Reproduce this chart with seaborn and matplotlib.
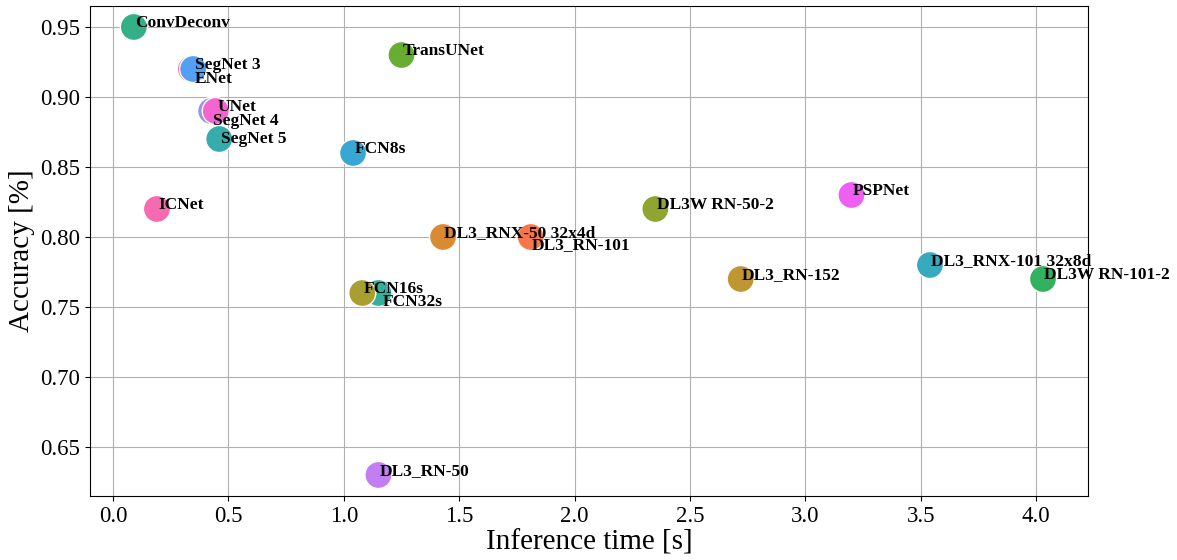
import numpy as np
import pandas as pd
import matplotlib

matplotlib.use("Agg")
import matplotlib.pyplot as plt
import seaborn as sns

# Data (drawing order matters for overlaps)
models = [
    "ConvDeconv", "ENet", "SegNet 3", "SegNet 4", "UNet", "SegNet 5",
    "FCN8s", "ICNet", "TransUNet", "DL3_RNX-50 32x4d", "DL3_RN-101",
    "FCN32s", "FCN16s", "DL3_RN-50", "DL3W RN-50-2", "DL3_RN-152",
    "PSPNet", "DL3_RNX-101 32x8d", "DL3W RN-101-2",
]
inference_time = [
    0.09, 0.337, 0.347, 0.425, 0.445, 0.46,
    1.04, 0.19, 1.25, 1.43, 1.81,
    1.15, 1.08, 1.15, 2.35, 2.72,
    3.20, 3.54, 4.03,
]
accuracy = [
    0.95, 0.92, 0.92, 0.89, 0.89, 0.87,
    0.86, 0.82, 0.93, 0.80, 0.80,
    0.76, 0.76, 0.63, 0.82, 0.77,
    0.83, 0.78, 0.77,
]

# order of the husl hues
hue_order = [
    "ENet", "DL3_RN-101", "DL3_RNX-50 32x4d", "DL3_RN-152", "FCN16s",
    "DL3W RN-50-2", "TransUNet", "DL3W RN-101-2", "ConvDeconv", "FCN32s",
    "SegNet 5", "DL3_RNX-101 32x8d", "FCN8s", "SegNet 3", "SegNet 4",
    "DL3_RN-50", "PSPNet", "UNet", "ICNet",
]

# label nudges (points) where labels were pushed apart
label_nudge = {
    "ENet": (3, -10),
    "SegNet 4": (1, -10),
    "SegNet 5": (1, -3),
    "DL3_RN-101": (1, -9),
    "FCN32s": (3, -9),
}

df = pd.DataFrame({"model": models, "time": inference_time, "acc": accuracy})

plt.rcParams["font.family"] = ["Liberation Serif", "DejaVu Serif"]

fig, ax = plt.subplots(figsize=(11.77, 5.6), dpi=100)
fig.subplots_adjust(left=90 / 1177, right=1088 / 1177, top=1 - 6 / 560, bottom=1 - 496 / 560)

sns.scatterplot(data=df, x="time", y="acc", hue="model", hue_order=hue_order,
                palette=sns.color_palette("husl", len(hue_order)),
                s=380, edgecolor="white", linewidth=1, legend=False, ax=ax, zorder=3)

for _, row in df.iterrows():
    dx, dy = label_nudge.get(row["model"], (1, 0))
    ax.annotate(row["model"], (row["time"], row["acc"]), xytext=(dx, dy),
                textcoords="offset points", ha="left", va="baseline",
                fontsize=12.5, fontweight="bold", zorder=4)

ax.set_xlim(-0.1, 4.225)
ax.set_ylim(0.615, 0.965)
ax.set_xticks(np.arange(0, 4.01, 0.5))
ax.set_yticks(np.arange(0.65, 0.951, 0.05))
ax.grid(True, color="#b0b0b0", linewidth=0.8, zorder=0)
ax.set_axisbelow(True)
ax.tick_params(labelsize=16.5)
ax.set_xlabel("Inference time [s]", fontsize=21, labelpad=2)
ax.set_ylabel("Accuracy [%]", fontsize=21, labelpad=4)

fig.savefig("out.png", dpi=100)
plt.close(fig)
